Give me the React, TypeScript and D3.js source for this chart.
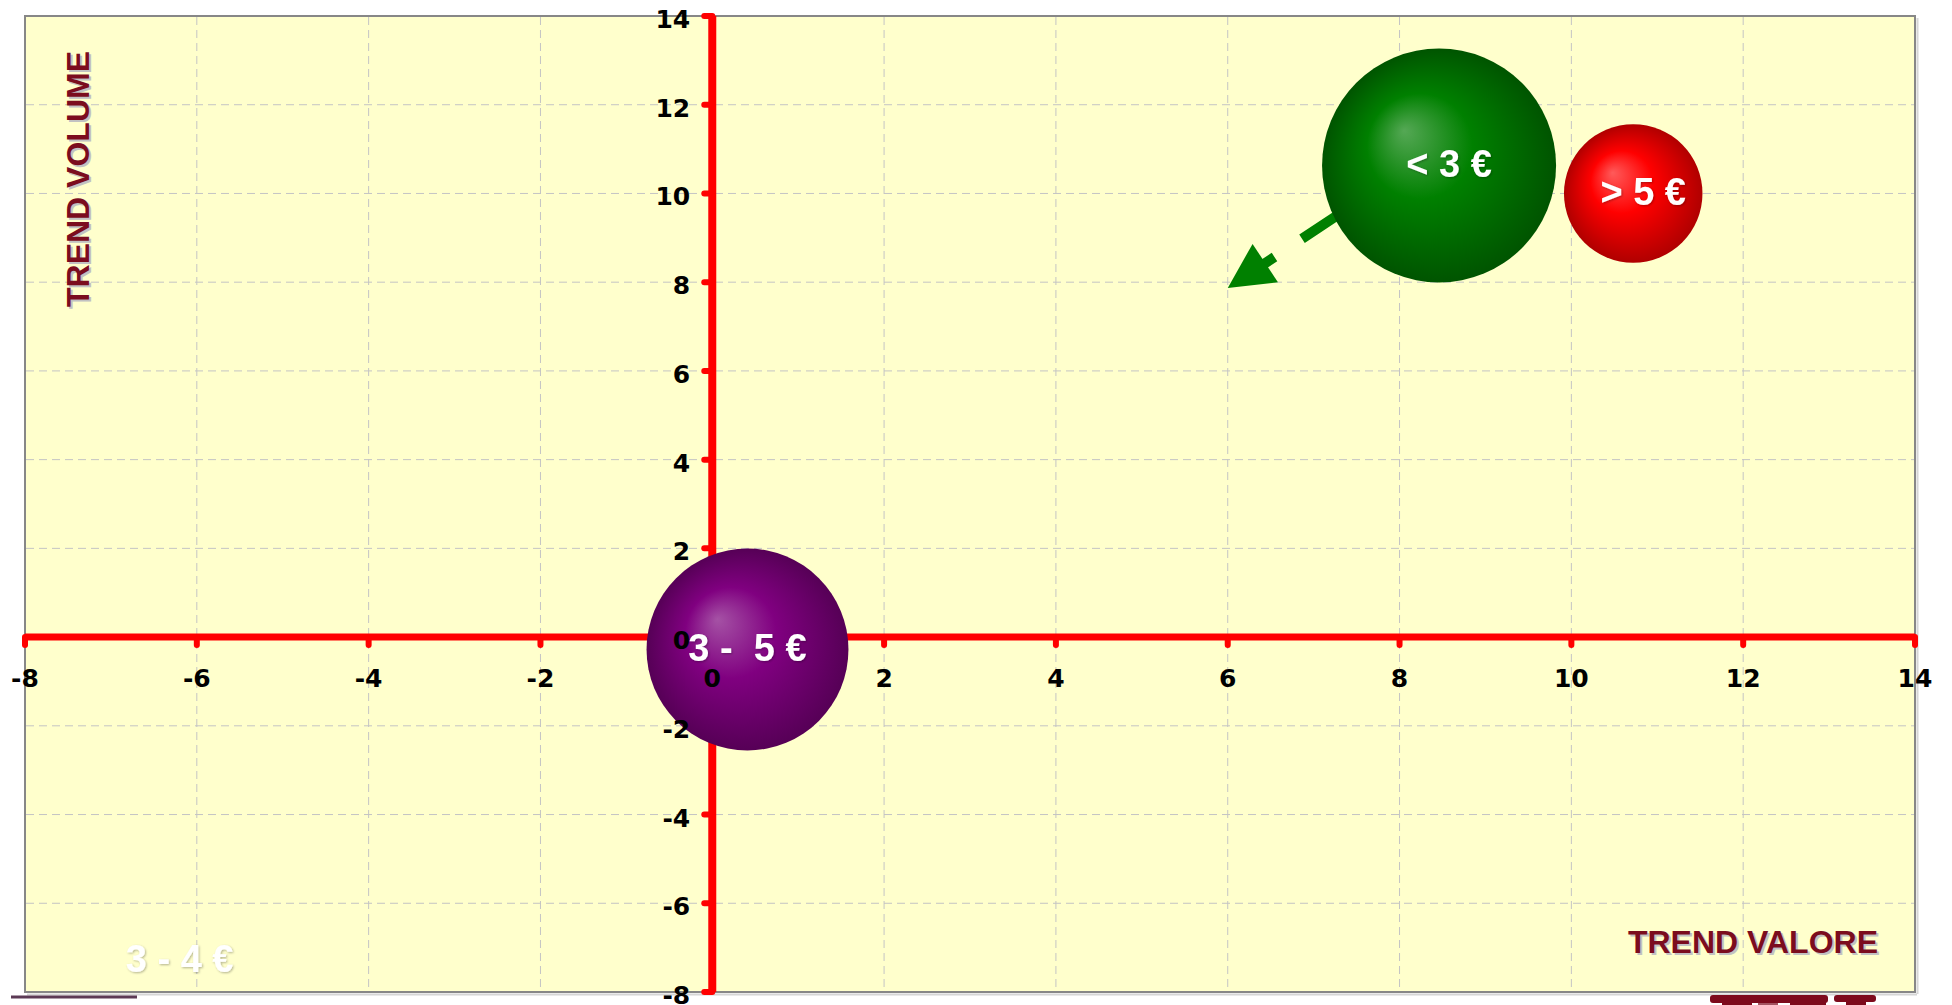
import React from 'react';
import * as d3 from 'd3';

// ---- data ----
const bubbleLabels = ['< 3 €', '> 5 €', '3 -  5 €', '3 - 4 €'];
const bubbleX = [8.46, 10.72, 0.41, -6.2];
const bubbleY = [10.63, 10.0, -0.28, -7.3];
const bubbleZ = [13.7, 4.8, 10.2, 0];
const bubbleColors = ['#008000', '#ff0000', '#800080', '#ffffff'];
const bubbleLight = ['#55a855', '#ff5a5a', '#a552a5', '#ffffff'];
const bubbleDark = ['#005400', '#b00000', '#560056', '#ffffff'];

const xTickValues = [-8, -6, -4, -2, 0, 2, 4, 6, 8, 10, 12, 14];
const yTickValues = [-8, -6, -4, -2, 0, 2, 4, 6, 8, 10, 12, 14];
const xDomain = [-8, 14];
const yDomain = [-8, 14];

const arrowFrom = [7.35, 9.6];
const arrowTo = [6.0, 7.87];

const xTitle = 'TREND VALORE';
const yTitle = 'TREND VOLUME';

// ---- layout ----
const W = 1952;
const H = 1005;
const left = 25;
const right = 1915;
const top = 16;
const bottom = 992;

export default function App() {
  const x = d3.scaleLinear().domain(xDomain).range([left, right]);
  const y = d3.scaleLinear().domain(yDomain).range([bottom, top]);
  const r = d3.scaleSqrt().domain([0, 13.7]).range([0, 117]);

  const x0 = x(0);
  const y0 = y(0);

  const bubbles = bubbleLabels.map((label, i) => ({
    label,
    cx: x(bubbleX[i]),
    cy: y(bubbleY[i]),
    r: r(bubbleZ[i]),
    i,
  }));

  // arrow
  const ax1 = x(arrowFrom[0]);
  const ay1 = y(arrowFrom[1]);
  const ax2 = x(arrowTo[0]);
  const ay2 = y(arrowTo[1]);
  const dx = ax2 - ax1;
  const dy = ay2 - ay1;
  const len = Math.sqrt(dx * dx + dy * dy);
  const ux = dx / len;
  const uy = dy / len;
  const headLen = 45;
  const headHalf = 23;
  const bx = ax2 - ux * headLen;
  const by = ay2 - uy * headLen;
  const head = [
    [ax2, ay2],
    [bx - uy * headHalf, by + ux * headHalf],
    [bx + uy * headHalf, by - ux * headHalf],
  ];

  const tickFont = "'DejaVu Sans', Verdana, sans-serif";
  const titleFont = "'Liberation Sans', Arial, sans-serif";

  return (
    <svg
      width={W}
      height={H}
      style={{ position: 'absolute', left: 0, top: 0, background: '#ffffff' }}
    >
      <defs>
        {bubbles.map((b) => (
          <radialGradient
            key={b.i}
            id={`grad${b.i}`}
            cx="0.5"
            cy="0.5"
            r="0.5"
            fx="0.35"
            fy="0.35"
          >
            <stop offset="0" stopColor={bubbleLight[b.i]} />
            <stop offset="0.45" stopColor={bubbleColors[b.i]} />
            <stop offset="1" stopColor={bubbleDark[b.i]} />
          </radialGradient>
        ))}
        <filter id="txtShadow" x="-10%" y="-20%" width="130%" height="150%">
          <feDropShadow dx="1" dy="1" stdDeviation="0.8" floodColor="#000" floodOpacity="0.3" />
        </filter>
      </defs>

      {/* plot background & border shadow */}
      <line x1={left + 2} x2={right + 2} y1={bottom + 2.5} y2={bottom + 2.5} stroke="#d6d6d6" strokeWidth={2} />
      <line x1={right + 2.5} x2={right + 2.5} y1={top + 2} y2={bottom + 2} stroke="#d6d6d6" strokeWidth={2} />
      <rect x={left} y={top} width={right - left} height={bottom - top} fill="#ffffcc" stroke="#878787" strokeWidth={2} />

      {/* grid */}
      <g stroke="#c4c4c4" strokeWidth={1} strokeDasharray="8 5">
        {xTickValues
          .filter((v) => v !== xDomain[0] && v !== xDomain[1] && v !== 0)
          .map((v) => (
            <line key={`gx${v}`} x1={x(v)} x2={x(v)} y1={top + 1} y2={bottom - 1} />
          ))}
        {yTickValues
          .filter((v) => v !== yDomain[0] && v !== yDomain[1] && v !== 0)
          .map((v) => (
            <line key={`gy${v}`} x1={left + 1} x2={right - 1} y1={y(v)} y2={y(v)} />
          ))}
      </g>

      {/* axes */}
      <g stroke="#ff0000" strokeLinecap="round">
        <line x1={x(xDomain[0])} x2={x(xDomain[1])} y1={y0} y2={y0} strokeWidth={7} strokeLinecap="butt" />
        <line x1={x0} x2={x0} y1={y(yDomain[1])} y2={y(yDomain[0])} strokeWidth={8} strokeLinecap="butt" />
        {xTickValues.map((v) => (
          <line key={`tx${v}`} x1={x(v)} x2={x(v)} y1={y0} y2={y0 + 8} strokeWidth={6} />
        ))}
        {yTickValues.map((v) => (
          <line key={`ty${v}`} x1={x0} x2={x0 - 8} y1={y(v)} y2={y(v)} strokeWidth={6} />
        ))}
      </g>

      {/* arrow */}
      <g fill="#008000" stroke="#008000">
        <line
          x1={ax1}
          y1={ay1}
          x2={bx + ux * 2}
          y2={by + uy * 2}
          strokeWidth={10}
          strokeDasharray="50 33"
        />
        <polygon points={head.map((p) => p.join(',')).join(' ')} stroke="none" />
      </g>

      {/* bubbles */}
      {bubbles.map((b) =>
        b.r > 0 ? (
          <circle key={`b${b.i}`} cx={b.cx} cy={b.cy} r={b.r} fill={`url(#grad${b.i})`} />
        ) : null
      )}

      {/* tick labels */}
      <g fontFamily={tickFont} fontWeight="bold" fontSize={25} fill="#000">
        {xTickValues.map((v) => (
          <text key={`lx${v}`} x={x(v)} y={y0 + 50} textAnchor="middle">
            {v}
          </text>
        ))}
        {yTickValues.map((v) => (
          <text key={`ly${v}`} x={x0 - 22} y={y(v) + 12} textAnchor="end">
            {v}
          </text>
        ))}
      </g>

      {/* bubble labels */}
      <g fontFamily={titleFont} fontWeight="bold" fontSize={38} fill="#ffffff" filter="url(#txtShadow)">
        {bubbles.map((b) => (
          <text
            key={`bl${b.i}`}
            x={b.cx + (b.r > 0 && b.r < 120 && b.cy < 300 ? 10 : 0)}
            y={b.cy}
            dy="0.3em"
            textAnchor="middle"
            style={{ whiteSpace: 'pre' }}
          >
            {b.label}
          </text>
        ))}
      </g>

      {/* axis titles */}
      <g fontFamily={titleFont} fontWeight="bold" fontSize={32}>
        <text x={1878 + 2} y={953 + 2} textAnchor="end" fill="#c2c2c2">
          {xTitle}
        </text>
        <text x={1878} y={953} textAnchor="end" fill="#7b0d1e">
          {xTitle}
        </text>
        <text transform={`translate(${89 + 2},${307 + 2}) rotate(-90)`} fill="#c2c2c2">
          {yTitle}
        </text>
        <text transform={`translate(89,307) rotate(-90)`} fill="#7b0d1e">
          {yTitle}
        </text>
      </g>

      {/* stray decorations below the plot */}
      <line x1={11} x2={137} y1={997} y2={997} stroke="#5c3a55" strokeWidth={3} />
      <g fill="#7d0a1c">
        <rect x={1710} y={995} width={118} height={8} rx={3} />
        <rect x={1722} y={1001} width={30} height={4} />
        <rect x={1790} y={1001} width={36} height={4} />
        <rect x={1758} y={1003} width={20} height={2} opacity={0.7} />
        <rect x={1834} y={995} width={42} height={7} rx={3} />
        <rect x={1846} y={1000} width={20} height={5} />
      </g>
    </svg>
  );
}
